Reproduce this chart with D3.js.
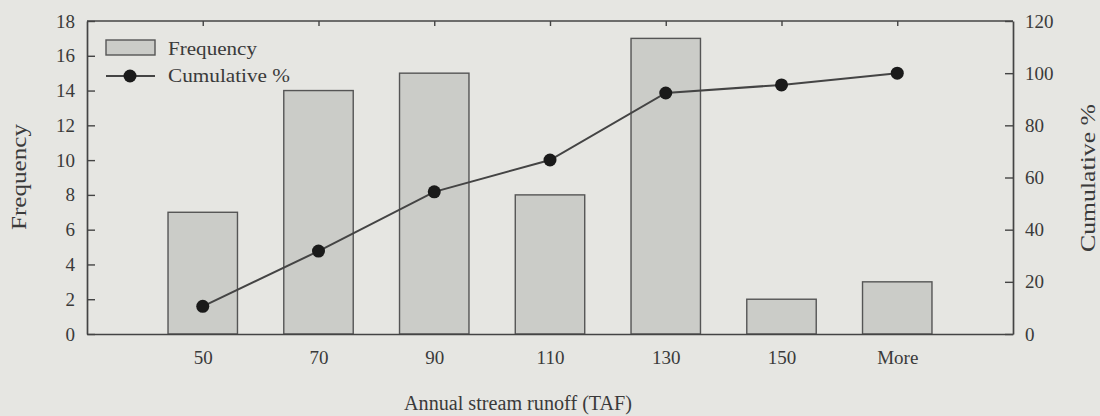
<!DOCTYPE html>
<html><head><meta charset="utf-8">
<script src="https://cdn.jsdelivr.net/npm/d3@7"></script>
<style>
html,body{margin:0;padding:0;background:#e6e6e2;}
text{font-family:"Liberation Serif","DejaVu Serif",serif;fill:#3a3a3a;}
</style></head>
<body><svg id="c" width="1100" height="416"></svg>
<script>
const categories = ["50","70","90","110","130","150","More"];
const frequency = [7, 14, 15, 8, 17, 2, 3];
const cumulative = [10.6, 31.8, 54.5, 66.7, 92.4, 95.5, 100];
const leftTicks = [0,2,4,6,8,10,12,14,16,18];
const rightTicks = [0,20,40,60,80,100,120];

const svg = d3.select("#c");
const L = 87, R = 1013, T = 21, B = 334;
const x = d3.scalePoint().domain(categories).range([L, R]).padding(1);
const yL = d3.scaleLinear().domain([0,18]).range([B, T]);
const yR = d3.scaleLinear().domain([0,120]).range([B, T]);
const bw = x.step() * 0.6;

svg.append("rect").attr("width",1100).attr("height",416).attr("fill","#e6e6e2");

// bars
svg.append("g").selectAll("rect").data(categories).join("rect")
  .attr("x", d => x(d) - bw/2)
  .attr("y", (d,i) => yL(frequency[i]))
  .attr("width", bw)
  .attr("height", (d,i) => B - yL(frequency[i]))
  .attr("fill", "#cbccc8").attr("stroke", "#555").attr("stroke-width", 1.4);

// axes
const axL = svg.append("g").attr("transform",`translate(${L},0)`)
  .call(d3.axisLeft(yL).tickValues(leftTicks).tickSizeInner(-8).tickSizeOuter(0).tickPadding(12));
const axR = svg.append("g").attr("transform",`translate(${R},0)`)
  .call(d3.axisRight(yR).tickValues(rightTicks).tickSizeInner(-8).tickSizeOuter(0).tickPadding(12));
const axB = svg.append("g").attr("transform",`translate(0,${B})`)
  .call(d3.axisBottom(x).tickSize(0).tickPadding(17));
const axT = svg.append("g").attr("transform",`translate(0,${T})`)
  .call(d3.axisTop(x).tickSizeInner(-5).tickSizeOuter(0).tickFormat(""));
[axL, axR, axB, axT].forEach(a => {
  a.selectAll("path.domain").attr("stroke","#444").attr("stroke-width",1.7);
  a.selectAll(".tick line").attr("stroke","#444").attr("stroke-width",1.4);
  a.selectAll("text").attr("font-size",19).attr("fill","#3a3a3a")
    .attr("font-family","Liberation Serif, serif");
});
axT.select("path.domain").remove();
svg.append("line").attr("x1",L).attr("x2",R).attr("y1",T).attr("y2",T)
  .attr("stroke","#444").attr("stroke-width",1.7);

// cumulative line
const line = d3.line().x((d,i) => x(categories[i])).y(d => yR(d));
svg.append("path").datum(cumulative).attr("d", line)
  .attr("fill","none").attr("stroke","#444").attr("stroke-width",2);
svg.append("g").selectAll("circle").data(cumulative).join("circle")
  .attr("cx",(d,i) => x(categories[i])).attr("cy", d => yR(d)).attr("r",6.5)
  .attr("fill","#1a1a1a");

// legend
const lg = svg.append("g");
lg.append("rect").attr("x",106).attr("y",40).attr("width",49).attr("height",15)
  .attr("fill","#cbccc8").attr("stroke","#555").attr("stroke-width",1.4);
lg.append("text").attr("x",168).attr("y",55).attr("font-size",19)
  .attr("textLength",89).attr("lengthAdjust","spacingAndGlyphs").text("Frequency");
lg.append("line").attr("x1",106).attr("x2",155).attr("y1",76).attr("y2",76)
  .attr("stroke","#444").attr("stroke-width",2);
lg.append("circle").attr("cx",130).attr("cy",76).attr("r",6.5).attr("fill","#1a1a1a");
lg.append("text").attr("x",168).attr("y",82).attr("font-size",19)
  .attr("textLength",122).attr("lengthAdjust","spacingAndGlyphs").text("Cumulative %");

// titles
svg.append("text").attr("transform","translate(26,177) rotate(-90)")
  .attr("text-anchor","middle").attr("font-size",20)
  .attr("textLength",106).attr("lengthAdjust","spacingAndGlyphs").text("Frequency");
svg.append("text").attr("transform","translate(1095,178) rotate(-90)")
  .attr("text-anchor","middle").attr("font-size",20)
  .attr("textLength",148).attr("lengthAdjust","spacingAndGlyphs").text("Cumulative %");
svg.append("text").attr("x",518).attr("y",410).attr("text-anchor","middle")
  .attr("font-size",20).attr("textLength",228).attr("lengthAdjust","spacingAndGlyphs")
  .text("Annual stream runoff (TAF)");
</script></body></html>
